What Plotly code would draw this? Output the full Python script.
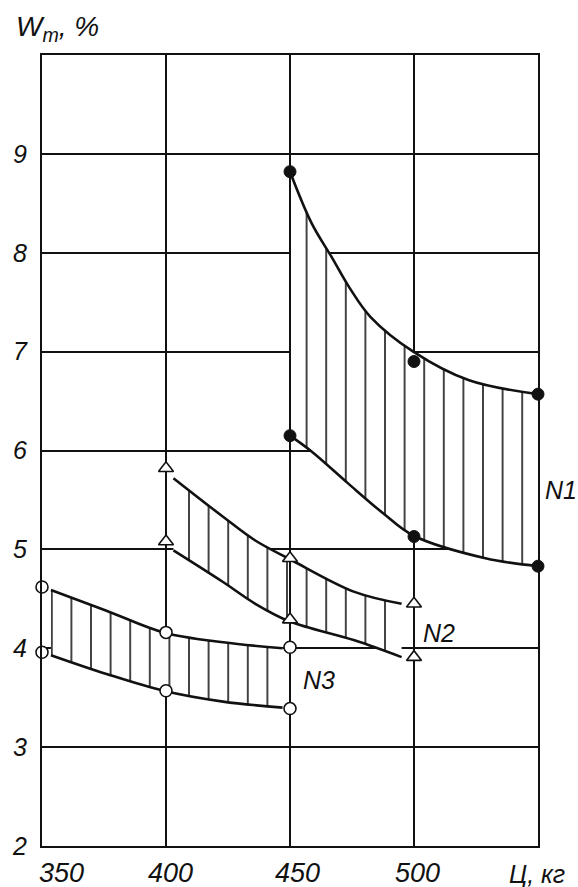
import plotly.graph_objects as go

# ---------------- data ----------------
# marker points
cement = {"N1": [450, 500, 550], "N2": [400, 450, 500], "N3": [350, 400, 450]}
n1_hi = [8.82, 6.90, 6.57]
n1_lo = [6.15, 5.13, 4.83]
n2_hi = [5.82, 4.91, 4.45]
n2_lo = [5.08, 4.29, 3.91]
n3_hi = [4.62, 4.16, 4.01]
n3_lo = [3.96, 3.57, 3.39]

# boundary curves
n1_hi_cx = [450, 458.7, 466.7, 473.9, 482.5, 499.7, 522.2, 550]
n1_hi_cy = [8.82, 8.30, 7.96, 7.65, 7.35, 7.00, 6.71, 6.57]
n1_lo_cx = [450, 458.7, 473.3, 487.8, 499.7, 528.8, 550]
n1_lo_cy = [6.15, 5.99, 5.67, 5.36, 5.14, 4.91, 4.83]

n2_hi_cx = [403, 423, 436, 450, 476, 495]
n2_hi_cy = [5.72, 5.33, 5.09, 4.90, 4.57, 4.45]
n2_lo_cx = [403, 423, 436, 450, 476, 495]
n2_lo_cy = [4.99, 4.67, 4.45, 4.27, 4.08, 3.91]

n3_hi_cx = [353.6, 376, 399, 423, 447]
n3_hi_cy = [4.59, 4.38, 4.16, 4.06, 4.00]
n3_lo_cx = [353.6, 376, 399, 423, 447]
n3_lo_cy = [3.93, 3.74, 3.57, 3.46, 3.40]

x_ticks = [350, 400, 450, 500]
y_ticks = [2, 3, 4, 5, 6, 7, 8, 9]
group_labels = ["N1", "N2", "N3"]
label_pos_x = [550, 510, 461.5]
label_pos_y = [5.6, 4.15, 3.68]

# ---------------- style ----------------
INK = "#111111"
FONT = dict(family="Liberation Sans", size=25, color=INK, style="italic")
XFONT = dict(family="Liberation Sans", size=27, color=INK, style="italic")
HATCH = dict(shape="|", size=19.6, solidity=0.08, fgcolor=INK, bgcolor="white",
             fillmode="replace")

fig = go.Figure()


def band(xlo, ylo, xhi, yhi):
    fig.add_trace(go.Scatter(x=xlo, y=ylo, mode="lines", line=dict(width=0, shape="spline"),
                             hoverinfo="skip", showlegend=False))
    fig.add_trace(go.Scatter(x=xhi, y=yhi, mode="lines", line=dict(width=0, shape="spline"),
                             fill="tonexty", fillcolor="white", fillpattern=HATCH,
                             hoverinfo="skip", showlegend=False))


band(n1_lo_cx, n1_lo_cy, n1_hi_cx, n1_hi_cy)
band(n2_lo_cx, n2_lo_cy, n2_hi_cx, n2_hi_cy)
band(n3_lo_cx, n3_lo_cy, n3_hi_cx, n3_hi_cy)

# vertical grid segments crossing the bands at the measured abscissae
fig.add_trace(go.Scatter(
    x=[cement["N1"][0], cement["N1"][0], None, cement["N2"][1], cement["N2"][1]],
    y=[n1_lo[0], n1_hi[0], None, n2_lo[1], n2_hi[1]],
    mode="lines", line=dict(color=INK, width=2), hoverinfo="skip", showlegend=False))

# boundary curves
for cx, cy in [(n1_hi_cx, n1_hi_cy), (n1_lo_cx, n1_lo_cy),
               (n2_hi_cx, n2_hi_cy), (n2_lo_cx, n2_lo_cy),
               (n3_hi_cx, n3_hi_cy), (n3_lo_cx, n3_lo_cy)]:
    fig.add_trace(go.Scatter(x=cx, y=cy, mode="lines",
                             line=dict(color=INK, width=2.6, shape="spline"),
                             hoverinfo="skip", showlegend=False))

# markers
mk = {
    "N1": dict(symbol="circle", size=12, color=INK, line=dict(color=INK, width=1)),
    "N2": dict(symbol="triangle-up", size=13, color="white", line=dict(color=INK, width=1.6)),
    "N3": dict(symbol="circle", size=12, color="white", line=dict(color=INK, width=1.6)),
}
for name, hi, lo in [("N1", n1_hi, n1_lo), ("N2", n2_hi, n2_lo), ("N3", n3_hi, n3_lo)]:
    fig.add_trace(go.Scatter(x=cement[name] + cement[name], y=hi + lo, mode="markers",
                             marker=mk[name], name=name, showlegend=False, cliponaxis=False))

# x tick labels (drawn as annotations on the x scale)
x_shift = [19, 4, 7, 3]
for v, s in zip(x_ticks, x_shift):
    fig.add_annotation(x=v, y=2, xref="x", yref="y", text=str(v), showarrow=False,
                       xanchor="center", yanchor="middle", xshift=s, yshift=-27, font=XFONT)

# group labels
for t, lx, ly in zip(group_labels, label_pos_x, label_pos_y):
    fig.add_annotation(x=lx, y=ly, xref="x", yref="y", text=t, showarrow=False,
                       xanchor="left" if t == "N1" else "center", yanchor="middle",
                       xshift=5 if t == "N1" else 0, font=FONT)

# axis titles
fig.add_annotation(x=550, y=2, xref="x", yref="y", text="Ц, кг", showarrow=False,
                   xanchor="left", yanchor="middle", xshift=-31, yshift=-28, font=FONT)
fig.add_annotation(x=0, y=1, xref="paper", yref="paper", text="W<sub>m</sub>, %",
                   showarrow=False, xanchor="left", yanchor="middle", xshift=-28, yshift=27,
                   font=dict(family="Liberation Sans", size=28, color=INK, style="italic"))

fig.update_layout(
    width=578, height=887,
    margin=dict(l=36, r=40, t=55, b=41, pad=0),
    paper_bgcolor="white", plot_bgcolor="white",
    showlegend=False,
    xaxis=dict(range=[350, 550], tickvals=[400, 450, 500], showticklabels=False,
               showgrid=True, gridcolor=INK, gridwidth=2, zeroline=False,
               showline=True, linecolor=INK, linewidth=2.2, mirror=True, ticks=""),
    yaxis=dict(range=[2, 10], tickvals=y_ticks, ticktext=[str(v) for v in y_ticks],
               showgrid=True, gridcolor=INK, gridwidth=2, zeroline=False,
               showline=True, linecolor=INK, linewidth=2.2, mirror=True, ticks="",
               ticklabelstandoff=8, tickfont=FONT),
)

fig.write_html("out.html")
